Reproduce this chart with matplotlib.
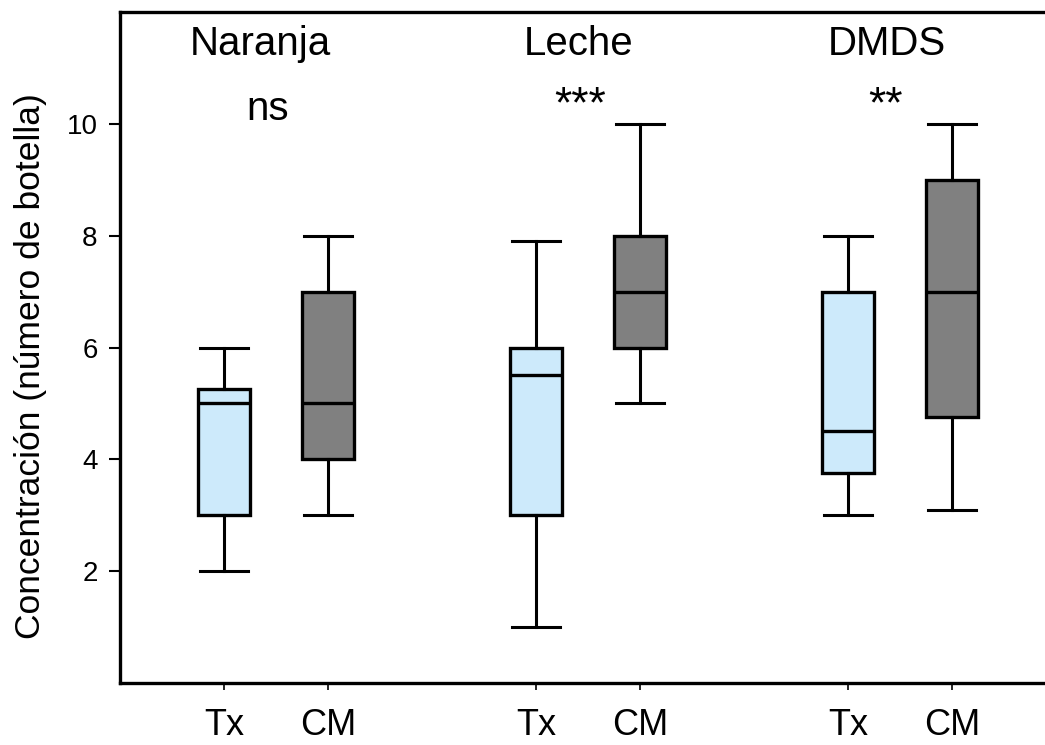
import matplotlib
matplotlib.use("Agg")
import matplotlib.pyplot as plt

plt.rcParams['font.family'] = ['Liberation Sans', 'DejaVu Sans']

groups = ['Naranja', 'Leche', 'DMDS']
signif = ['ns', '***', '**']
treatments = ['Tx', 'CM']
positions = [1, 2, 4, 5, 7, 8]

# whisker low, Q1, median, Q3, whisker high  (Tx, CM per group)
whislo = [2, 3, 1, 5, 3, 3.1]
q1 = [3, 4, 3, 6, 3.75, 4.75]
med = [5, 5, 5.5, 7, 4.5, 7]
q3 = [5.25, 7, 6, 8, 7, 9]
whishi = [6, 8, 7.9, 10, 8, 10]

colors = ['#cdeafb', '#808080']

fig = plt.figure(figsize=(10.45, 7.45), dpi=100)
ax = fig.add_axes([0.1148, 0.0832, 0.8957, 0.9007])

stats = []
for i in range(len(positions)):
    stats.append({'whislo': whislo[i], 'q1': q1[i], 'med': med[i],
                  'q3': q3[i], 'whishi': whishi[i], 'fliers': []})

bp = ax.bxp(stats, positions=positions, widths=0.5, patch_artist=True,
            showfliers=False,
            boxprops=dict(linewidth=2.4, edgecolor='black'),
            medianprops=dict(color='black', linewidth=2.4),
            whiskerprops=dict(color='black', linewidth=2.2),
            capprops=dict(color='black', linewidth=2.2),
            capwidths=0.46)
for i, box in enumerate(bp['boxes']):
    box.set_facecolor(colors[i % 2])

ax.set_xlim(0, 9)
ax.set_ylim(0, 12)
ax.set_yticks([2, 4, 6, 8, 10])
ax.set_xticks(positions)
ax.set_xticklabels(treatments * 3, fontsize=26)
ax.tick_params(axis='y', labelsize=20, length=8, width=1.5, direction='out', pad=8)
ax.tick_params(axis='x', length=5, width=1.2, direction='out', pad=13)

ax.set_ylabel('Concentración (número de botella)', fontsize=25.5, va='center')
ax.yaxis.set_label_coords(-0.096, 0.472)

for s in ['left', 'bottom', 'top']:
    ax.spines[s].set_linewidth(2.4)
ax.spines['right'].set_visible(False)

# group names and significance marks
name_x = [1.346, 4.41, 7.375]
sig_x = [1.423, 4.42, 7.365]
for k, g in enumerate(groups):
    ax.text(name_x[k], 11.23, g, fontsize=29, ha='center', va='baseline')
    if signif[k] == 'ns':
        ax.text(sig_x[k], 10.07, signif[k], fontsize=29, ha='center', va='baseline')
    else:
        ax.text(sig_x[k], 10.33, signif[k], fontsize=32, ha='center', va='center')

fig.savefig('out.png', dpi=100)
